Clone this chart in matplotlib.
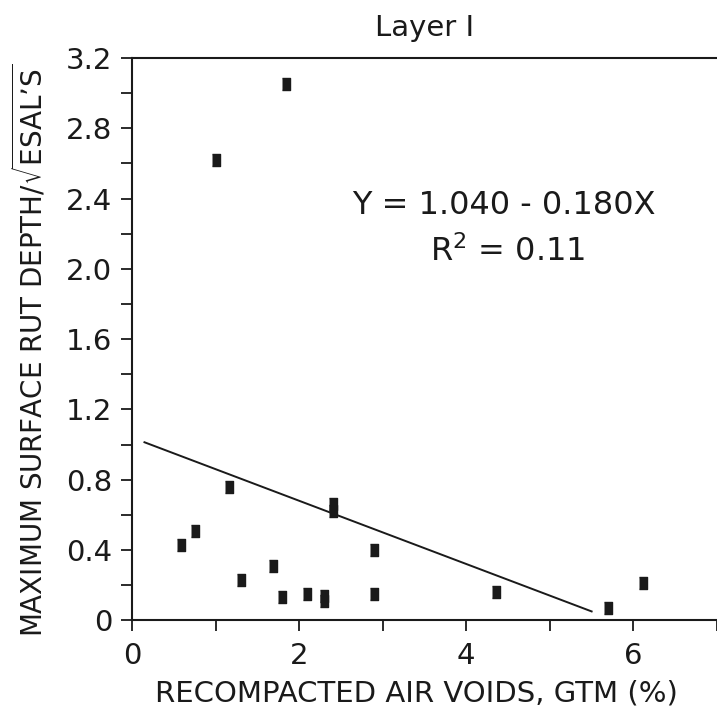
import numpy as np
import matplotlib.pyplot as plt

# recompacted air voids (%) and max rut depth / sqrt(ESALs)
air_voids = [0.59, 0.75, 1.01, 1.16, 1.30, 1.69, 1.80, 1.84, 2.09,
             2.30, 2.30, 2.40, 2.40, 2.90, 2.90, 4.35, 5.70, 6.11]
rut_depth = [0.43, 0.51, 2.62, 0.76, 0.23, 0.31, 0.13, 3.05, 0.15,
             0.14, 0.11, 0.66, 0.62, 0.40, 0.15, 0.16, 0.07, 0.21]

# regression Y = 1.040 - 0.180X drawn over the data range
a, b = 1.040, -0.180
x_fit = np.array([0.15, 5.5])
y_fit = a + b * x_fit

plt.rcParams['font.family'] = ['DejaVu Sans']
plt.rcParams['mathtext.default'] = 'regular'

ink = '#1a1a1a'

fig = plt.figure(figsize=(7.17, 7.17), dpi=100)
ax = fig.add_axes([0.184, 0.135, 0.816, 0.784])

rect = [(-0.4, -0.5), (0.4, -0.5), (0.4, 0.5), (-0.4, 0.5)]
ax.plot(air_voids, rut_depth, linestyle='none', marker=rect,
        markersize=8, color=ink)
ax.plot(x_fit, y_fit, color=ink, lw=1.4)

ax.set_xlim(0, 7)
ax.set_ylim(0, 3.2)
ax.set_xticks(np.arange(0, 8, 1))
ax.set_xticklabels(['0', '', '2', '', '4', '', '6', ''])
ax.set_yticks(np.arange(0, 3.21, 0.2))
ylabels = []
for v in np.arange(0, 3.21, 0.2):
    k = int(round(v * 10))
    if k % 4 == 0:
        ylabels.append('0' if k == 0 else f'{v:.1f}')
    else:
        ylabels.append('')
ax.set_yticklabels(ylabels)

ax.tick_params(direction='out', length=8, width=1.3, labelsize=21,
               pad=6, colors=ink)
ax.tick_params(axis='x', pad=8)
for s in ['left', 'bottom', 'top']:
    ax.spines[s].set_linewidth(1.5)
    ax.spines[s].set_color(ink)
ax.spines['right'].set_visible(False)

ax.set_xlabel('RECOMPACTED AIR VOIDS, GTM (%)', fontsize=21, color=ink)
ax.xaxis.set_label_coords(0.487, -0.105)
ax.set_ylabel("MAXIMUM SURFACE RUT DEPTH/$\\sqrt{ESAL\u2019S}$",
              fontsize=20, color=ink)
ax.yaxis.set_label_coords(-0.142, 0.48)
ax.set_title('Layer I', fontsize=21, pad=16, color=ink)

ax.text(4.45, 2.36, 'Y = 1.040 - 0.180X', fontsize=23, ha='center',
        va='center', color=ink)
ax.text(4.5, 2.1, r'R$^2$ = 0.11', fontsize=23, ha='center',
        va='center', color=ink)

plt.savefig('out.png', dpi=100)
